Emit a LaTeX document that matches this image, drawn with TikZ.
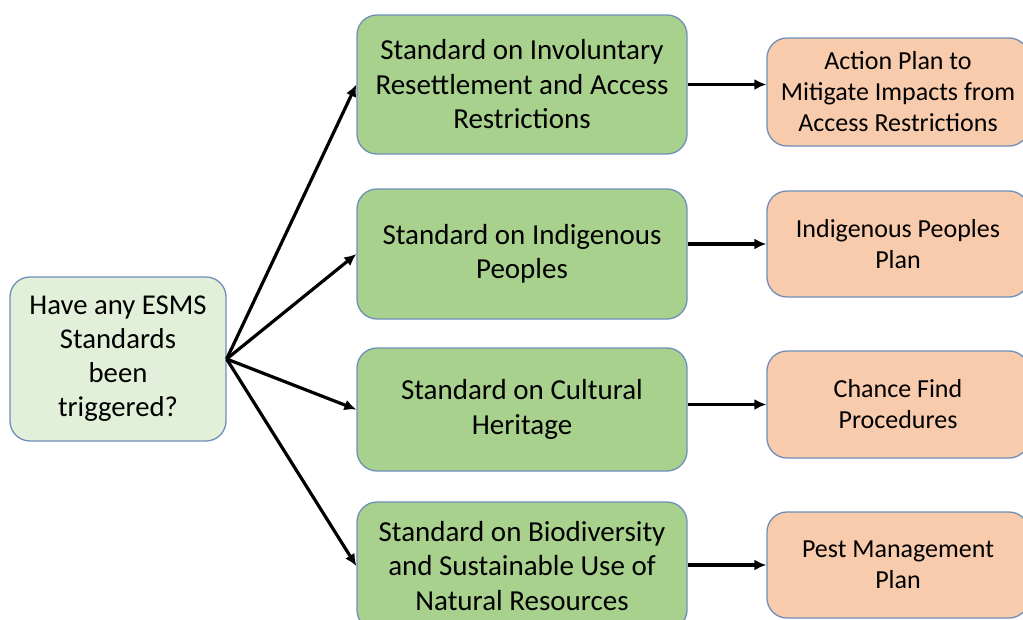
\documentclass[tikz,border=0pt]{standalone}
\usepackage{fontspec}
\setmainfont{Carlito}
\usetikzlibrary{arrows.meta}
\definecolor{lgreen}{HTML}{E2EFD9}
\definecolor{mgreen}{HTML}{A9D18E}
\definecolor{peach}{HTML}{F8CBAD}
\definecolor{bord}{HTML}{6F8FB8}
\tikzset{
  box/.style={draw=bord, line width=1.3pt, rounded corners=20pt, align=center, inner sep=0pt},
  qbox/.style={box, fill=lgreen, font=\fontsize{28.7}{34}\selectfont},
  gbox/.style={box, fill=mgreen, minimum width=330pt, font=\fontsize{29}{34.5}\selectfont},
  obox/.style={box, fill=peach, minimum width=262pt, font=\fontsize{26}{31}\selectfont},
  arr/.style={line width=3.2pt, -{Latex[length=12pt,width=11pt]}}
}
\begin{document}
\begin{tikzpicture}[x=1pt,y=-1pt]
\useasboundingbox (0,0) rectangle (1023,619);
\node[qbox, minimum width=216pt, minimum height=164pt] (L) at (118,359) {Have any ESMS\\Standards\\been\\triggered?};
\node[gbox, minimum height=139pt] (G1) at (522,84.5) {Standard on Involuntary\\Resettlement and Access\\Restrictions};
\node[gbox, minimum height=130pt] (G2) at (522,254) {Standard on Indigenous\\Peoples};
\node[gbox, minimum height=123pt] (G3) at (522,409.5) {Standard on Cultural\\Heritage};
\node[gbox, minimum height=128pt] (G4) at (522,566) {Standard on Biodiversity\\and Sustainable Use of\\Natural Resources};
\node[obox, minimum height=108pt] (O1) at (898,92) {Action Plan to\\Mitigate Impacts from\\Access Restrictions};
\node[obox, minimum height=106pt] (O2) at (898,244) {Indigenous Peoples\\Plan};
\node[obox, minimum height=107pt] (O3) at (898,404.5) {Chance Find\\Procedures};
\node[obox, minimum height=106pt] (O4) at (898,565) {Pest Management\\Plan};
\foreach \g in {G1,G2,G3,G4} \draw[arr] (L.east) -- (\g.west);
\draw[arr] (G1.east) -- (G1.east -| O1.west);
\draw[arr] (O2.west -| G2.east) -- (O2.west);
\draw[arr] (O3.west -| G3.east) -- (O3.west);
\draw[arr] (O4.west -| G4.east) -- (O4.west);
\end{tikzpicture}
\end{document}
